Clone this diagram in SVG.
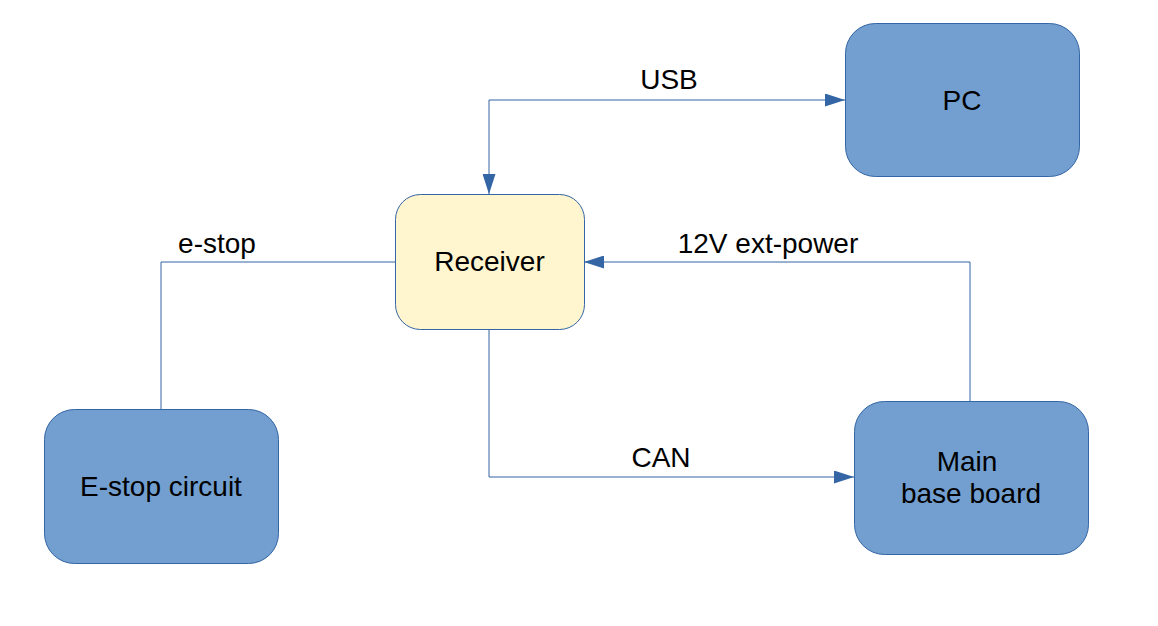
<svg xmlns="http://www.w3.org/2000/svg" width="1158" height="626" viewBox="0 0 1158 626">
<defs>
<marker id="arr" markerWidth="20" markerHeight="13" refX="20" refY="6.5" orient="auto" markerUnits="userSpaceOnUse">
<path d="M0,0 L20,6.5 L0,13 Z" fill="#3465a4"/>
</marker>
<style>
.node{stroke:#3465a4;stroke-width:1}
.blue{fill:#729fcf}
.yel{fill:#fff5ce}
.conn{fill:none;stroke:#3465a4;stroke-width:1}
text{font-family:"Liberation Sans",Arial,sans-serif;font-size:28px;fill:#000;text-anchor:middle}
</style>
</defs>
<rect width="1158" height="626" fill="#fff"/>
<g id="connectors">
<path class="conn" d="M489,100 L489,194" marker-end="url(#arr)"/>
<path class="conn" d="M489,100 L845,100" marker-end="url(#arr)"/>
<path class="conn" d="M970,401 L970,262 L584,262" marker-end="url(#arr)"/>
<path class="conn" d="M395,262 L161,262 L161,409"/>
<path class="conn" d="M489,329 L489,477 L854,477" marker-end="url(#arr)"/>
<text x="669" y="89">USB</text>
<text x="768" y="253">12V ext-power</text>
<text x="217" y="253">e-stop</text>
<text x="661" y="467">CAN</text>
</g>
<g id="receiver">
<rect class="node yel" x="395.5" y="194.5" width="189" height="135" rx="25" ry="25"/>
<text x="489.5" y="271">Receiver</text>
</g>
<g id="pc">
<rect class="node blue" x="845.5" y="23.5" width="234" height="153" rx="30" ry="30"/>
<text x="962" y="110">PC</text>
</g>
<g id="estop">
<rect class="node blue" x="44.5" y="409.5" width="234" height="154" rx="30" ry="30"/>
<text x="161" y="496">E-stop circuit</text>
</g>
<g id="main">
<rect class="node blue" x="854.5" y="401.5" width="234" height="153" rx="30" ry="30"/>
<text x="967" y="471">Main</text>
<text x="971" y="503">base board</text>
</g>
</svg>
